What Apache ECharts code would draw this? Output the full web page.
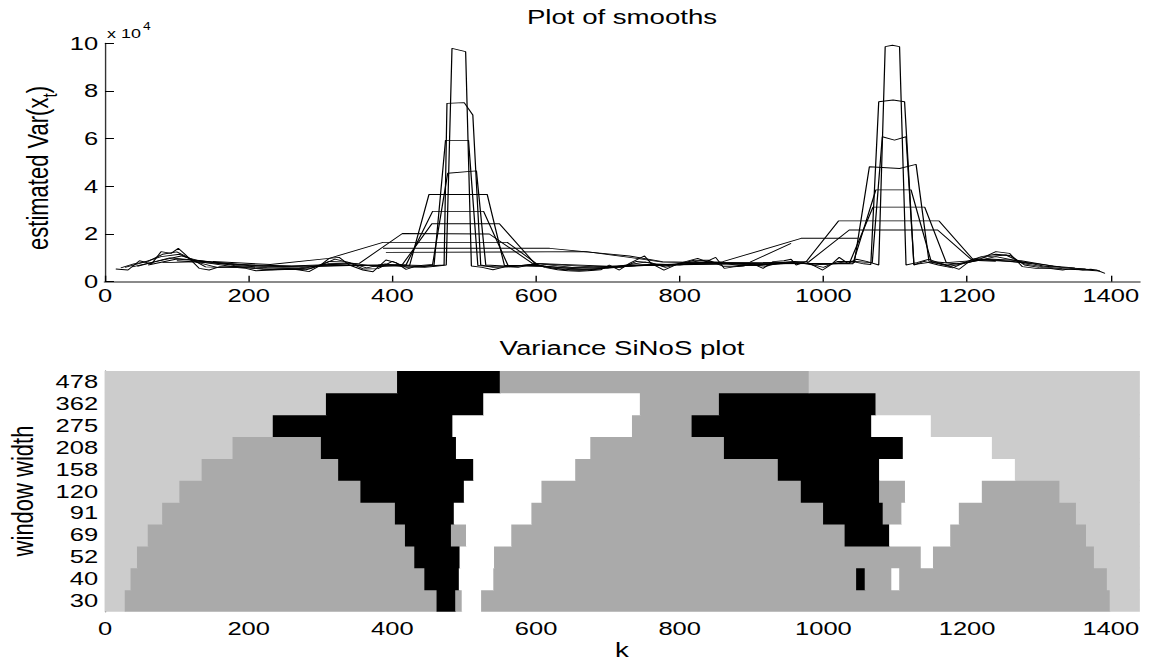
<!DOCTYPE html>
<html>
<head>
<meta charset="utf-8">
<script src="https://cdn.jsdelivr.net/npm/echarts@6/dist/echarts.min.js"></script>
<style>
html,body{margin:0;padding:0;background:#fff;overflow:hidden;}
#chart{width:834px;height:663px;transform:scaleX(1.38010);transform-origin:0 0;}
</style>
</head>
<body>
<div id="chart"></div>
<script>
// ---------------- data ----------------
const xMax = 1440;
const xTickValues = [0, 200, 400, 600, 800, 1000, 1200, 1400];
const yTickValues = [0, 2, 4, 6, 8, 10];          // x 10^4
const windowWidths = ['30', '40', '52', '69', '91', '120', '158', '208', '275', '362', '478'];

// smooths: [k, estimated Var(x_t) in units of 10^4]
const smooth30 = [[15,0.53],[32,0.49],[48,0.88],[65,0.75],[78,1.26],[92,1.19],[102,1.40],[115,1.05],[131,0.56],[145,0.49],[160,0.63],[180,0.60],[196,0.56],[210,0.46],[233,0.49],[255,0.55],[271,0.49],[284,0.42],[298,0.65],[312,0.98],[326,1.02],[340,0.70],[359,0.49],[373,0.42],[391,0.91],[405,0.80],[419,0.52],[431,0.63],[445,0.60],[460,0.65],[475,0.70],[483,9.79],[502,9.65],[510,0.66],[525,0.60],[540,0.50],[558,0.63],[575,0.60],[590,0.70],[598,0.77],[612,0.60],[630,0.50],[644,0.46],[660,0.44],[672,0.46],[690,0.50],[702,0.70],[716,0.49],[730,0.77],[751,1.08],[760,0.77],[778,0.49],[799,0.77],[825,0.98],[837,0.84],[850,1.02],[862,0.56],[875,0.62],[888,0.66],[902,0.75],[916,0.56],[930,0.84],[945,0.88],[955,0.94],[962,0.70],[976,0.84],[988,0.65],[999,0.49],[1012,0.75],[1022,1.02],[1034,0.77],[1046,0.94],[1060,0.85],[1077,0.70],[1086,9.86],[1096,9.92],[1106,9.86],[1115,0.70],[1130,0.80],[1147,0.94],[1160,0.80],[1175,0.66],[1189,0.52],[1207,0.94],[1222,1.01],[1240,1.26],[1259,1.19],[1277,0.63],[1296,0.56],[1314,0.56],[1333,0.49],[1345,0.55],[1361,0.49],[1372,0.52],[1380,0.49],[1392,0.35]];
const smooth40 = [[22,0.58],[40,0.75],[60,0.85],[80,1.15],[100,1.25],[120,0.95],[140,0.62],[160,0.60],[180,0.63],[200,0.58],[220,0.52],[240,0.50],[260,0.52],[280,0.50],[300,0.68],[320,0.95],[340,0.80],[360,0.53],[380,0.55],[400,0.85],[420,0.60],[440,0.63],[460,0.68],[472,0.70],[476,7.48],[500,7.51],[512,6.99],[523,0.70],[540,0.60],[560,0.62],[580,0.68],[600,0.72],[620,0.58],[640,0.50],[660,0.48],[680,0.50],[700,0.60],[720,0.60],[740,0.85],[760,0.80],[780,0.60],[800,0.75],[820,0.90],[840,0.90],[860,0.65],[880,0.65],[900,0.70],[920,0.65],[940,0.80],[960,0.85],[980,0.75],[1000,0.60],[1020,0.85],[1040,0.85],[1056,0.75],[1066,0.72],[1077,7.55],[1097,7.62],[1113,7.55],[1126,0.70],[1140,0.85],[1160,0.70],[1180,0.58],[1200,0.85],[1220,1.05],[1240,1.15],[1260,1.10],[1280,0.70],[1300,0.60],[1320,0.55],[1340,0.52],[1360,0.50],[1385,0.45]];
const smooth52 = [[28,0.60],[52,0.80],[78,1.05],[104,1.15],[130,0.80],[156,0.60],[182,0.62],[208,0.56],[234,0.52],[260,0.54],[286,0.56],[312,0.85],[338,0.82],[364,0.58],[390,0.75],[416,0.62],[442,0.65],[458,0.70],[474,5.93],[506,5.93],[519,0.68],[545,0.62],[570,0.65],[596,0.73],[622,0.58],[648,0.50],[674,0.50],[700,0.58],[726,0.70],[752,0.82],[778,0.65],[804,0.78],[830,0.88],[856,0.80],[882,0.68],[908,0.69],[934,0.74],[960,0.82],[986,0.70],[1012,0.76],[1038,0.86],[1068,0.80],[1082,6.08],[1099,5.94],[1115,6.08],[1126,0.72],[1150,0.82],[1176,0.65],[1202,0.80],[1228,1.05],[1254,1.12],[1280,0.75],[1306,0.62],[1332,0.55],[1358,0.54],[1375,0.50]];
const smooth69 = [[38,0.62],[72,0.85],[106,1.08],[140,0.80],[174,0.65],[208,0.60],[242,0.56],[276,0.56],[310,0.75],[344,0.78],[378,0.63],[412,0.70],[440,0.68],[456,0.72],[477,4.55],[517,4.65],[530,0.70],[562,0.65],[596,0.70],[630,0.60],[664,0.52],[698,0.56],[732,0.66],[766,0.74],[800,0.70],[834,0.82],[868,0.76],[902,0.70],[936,0.75],[970,0.78],[1004,0.73],[1043,0.80],[1064,4.82],[1106,4.75],[1129,4.92],[1147,0.85],[1172,0.70],[1206,0.83],[1240,1.05],[1274,0.85],[1308,0.65],[1342,0.58],[1365,0.53]];
const smooth91 = [[45,0.65],[90,1.00],[135,0.88],[180,0.68],[225,0.60],[270,0.58],[315,0.72],[360,0.68],[405,0.66],[424,0.68],[451,3.66],[532,3.66],[556,0.68],[600,0.68],[645,0.56],[690,0.58],[735,0.70],[780,0.72],[825,0.78],[870,0.76],[915,0.72],[960,0.78],[1005,0.75],[1041,0.75],[1073,3.85],[1122,3.85],[1150,0.85],[1185,0.75],[1230,0.95],[1275,0.88],[1320,0.65],[1350,0.58]];
const smooth120 = [[60,0.70],[100,0.95],[160,0.80],[220,0.65],[280,0.62],[340,0.68],[400,0.70],[419,0.70],[456,2.95],[527,2.95],[561,0.68],[620,0.62],[680,0.58],[740,0.68],[800,0.73],[860,0.76],[920,0.75],[980,0.76],[1036,0.76],[1069,3.13],[1141,3.13],[1171,0.80],[1230,0.93],[1290,0.78],[1330,0.62]];
const smooth158 = [[80,0.80],[140,0.85],[200,0.68],[260,0.65],[320,0.68],[380,0.70],[414,0.72],[455,2.43],[549,2.43],[598,0.77],[650,0.60],[720,0.65],[800,0.73],[880,0.76],[976,0.84],[1021,2.55],[1161,2.55],[1208,0.94],[1260,0.85],[1290,0.75]];
const smooth208 = [[100,0.88],[180,0.72],[260,0.66],[354,0.77],[414,2.02],[535,2.00],[595,0.77],[680,0.62],[780,0.70],[880,0.75],[980,0.84],[1036,2.17],[1159,2.17],[1207,0.90],[1240,0.86]];
const smooth275 = [[150,0.85],[230,0.72],[312,0.98],[387,1.65],[560,1.65],[600,0.77],[700,0.65],[800,0.72],[860,0.84],[969,1.82],[1048,1.82]];
const smooth362 = [[387,1.40],[619,1.40],[730,1.08],[776,0.84],[840,0.80],[898,0.82],[955,1.61]];
const smooth478 = [[391,1.23],[670,1.26],[730,1.02],[776,0.82],[840,0.80],[900,0.80],[975,0.76]];

// SiNoS segments per window width: [start k, end k, class]
// L = not available, G = no significant change, B = significantly higher, W = significantly lower
const sinos30  = [[0,28,'L'],[28,462,'G'],[462,488,'B'],[488,497,'G'],[497,524,'W'],[524,1399,'G'],[1399,1440,'L']];
const sinos40  = [[0,36,'L'],[36,445,'G'],[445,493,'B'],[493,541,'W'],[541,1046,'G'],[1046,1058,'B'],[1058,1095,'G'],[1095,1106,'W'],[1106,1395,'G'],[1395,1440,'L']];
const sinos52  = [[0,45,'L'],[45,431,'G'],[431,494,'B'],[494,542,'W'],[542,1136,'G'],[1136,1153,'W'],[1153,1377,'G'],[1377,1440,'L']];
const sinos69  = [[0,60,'L'],[60,418,'G'],[418,482,'B'],[482,503,'G'],[503,566,'W'],[566,1030,'G'],[1030,1092,'B'],[1092,1177,'W'],[1177,1366,'G'],[1366,1440,'L']];
const sinos91  = [[0,80,'L'],[80,404,'G'],[404,486,'B'],[486,594,'W'],[594,1000,'G'],[1000,1083,'B'],[1083,1109,'G'],[1109,1189,'W'],[1189,1352,'G'],[1352,1440,'L']];
const sinos120 = [[0,104,'L'],[104,356,'G'],[356,500,'B'],[500,608,'W'],[608,969,'G'],[969,1078,'B'],[1078,1114,'G'],[1114,1221,'W'],[1221,1329,'G'],[1329,1440,'L']];
const sinos158 = [[0,135,'L'],[135,325,'G'],[325,513,'B'],[513,655,'W'],[655,937,'G'],[937,1078,'B'],[1078,1267,'W'],[1267,1440,'L']];
const sinos208 = [[0,178,'L'],[178,301,'G'],[301,489,'B'],[489,676,'W'],[676,862,'G'],[862,1111,'B'],[1111,1235,'W'],[1235,1440,'L']];
const sinos275 = [[0,234,'L'],[234,484,'B'],[484,734,'W'],[734,817,'G'],[817,1067,'B'],[1067,1150,'W'],[1150,1440,'L']];
const sinos362 = [[0,308,'L'],[308,527,'B'],[527,745,'W'],[745,855,'G'],[855,1073,'B'],[1073,1440,'L']];
const sinos478 = [[0,407,'L'],[407,550,'B'],[550,980,'G'],[980,1440,'L']];

const shadeColors = { L: '#cccccc', G: '#aaaaaa', B: '#000000', W: '#ffffff' };

// ---------------- build ----------------
const SX = 1151 / 834;   // the figure is stretched horizontally
const FONT = "'Liberation Sans', Arial, Helvetica, sans-serif";
const smoothList = [smooth30, smooth40, smooth52, smooth69, smooth91, smooth120, smooth158, smooth208, smooth275, smooth362, smooth478];
const sinosList = [sinos30, sinos40, sinos52, sinos69, sinos91, sinos120, sinos158, sinos208, sinos275, sinos362, sinos478];

const segData = [];
const segColors = [];
sinosList.forEach((row, r) => {
  row.forEach(s => { segData.push([s[0], s[1], r]); segColors.push(shadeColors[s[2]]); });
});

const gl = 105 / SX;
const gr = 834 - 1139.5 / SX;
const plain = v => String(v);

const tickLabel = { color: '#000', fontSize: 18.5, fontFamily: FONT, formatter: plain };

const chart = echarts.init(document.getElementById('chart'), null, { renderer: 'svg', width: 834, height: 663 });

const lineSeries = smoothList.map((d, i) => ({
  type: 'line', name: 'window ' + windowWidths[i], xAxisIndex: 0, yAxisIndex: 0,
  data: d, symbol: 'none', showSymbol: false, silent: true, animation: false,
  lineStyle: { color: '#000', width: 0.9 }, z: 3
}));

const option = {
  animation: false,
  backgroundColor: '#fff',
  grid: [
    { left: gl, right: gr, top: 43.3, height: 238.4, containLabel: false },
    { left: gl, right: gr, top: 371, height: 240.7, containLabel: false }
  ],
  xAxis: [
    { type: 'value', gridIndex: 0, min: 0, max: xMax, interval: 200,
      splitLine: { show: false },
      axisLine: { show: true, lineStyle: { color: '#8a8a8a', width: 2 } },
      axisTick: { show: true, inside: true, length: 6, customValues: xTickValues, lineStyle: { color: '#000', width: 1 } },
      axisLabel: Object.assign({ margin: 5, customValues: xTickValues }, tickLabel) },
    { type: 'value', gridIndex: 1, min: 0, max: xMax, interval: 200,
      splitLine: { show: false },
      axisLine: { show: false },
      axisTick: { show: false },
      axisLabel: Object.assign({ margin: 8, customValues: xTickValues }, tickLabel) }
  ],
  yAxis: [
    { type: 'value', gridIndex: 0, min: 0, max: 10, interval: 2,
      splitLine: { show: false },
      axisLine: { show: true, lineStyle: { color: '#333', width: 1 } },
      axisTick: { show: true, inside: true, length: 6.5, lineStyle: { color: '#000', width: 1 } },
      axisLabel: Object.assign({ margin: 5 }, tickLabel) },
    { type: 'category', gridIndex: 1, data: windowWidths, boundaryGap: true,
      splitLine: { show: false },
      axisLine: { show: true, lineStyle: { color: '#555', width: 1 } },
      axisTick: { show: false },
      axisLabel: { margin: 5, interval: 0, color: '#000', fontSize: 18.5, fontFamily: FONT } }
  ],
  series: lineSeries.concat([{
    type: 'custom', xAxisIndex: 1, yAxisIndex: 1, data: segData, clip: true, silent: true, z: 2,
    encode: { x: [0, 1], y: 2 },
    renderItem: function (params, api) {
      const p0 = api.coord([api.value(0), api.value(2)]);
      const p1 = api.coord([api.value(1), api.value(2)]);
      const h = api.size([0, 1])[1];
      return { type: 'rect',
        shape: { x: p0[0] - 0.25, y: p0[1] - h / 2 - 0.4, width: p1[0] - p0[0] + 0.5, height: h + 0.8 },
        style: { fill: segColors[params.dataIndex], stroke: null } };
    }
  }]),
  graphic: [
    { type: 'text', x: 622 / SX, y: 17, style: { text: 'Plot of smooths', fill: '#000', fontSize: 20, fontFamily: FONT, textAlign: 'center', textVerticalAlign: 'middle' } },
    { type: 'text', x: 622 / SX, y: 348, style: { text: 'Variance SiNoS plot', fill: '#000', fontSize: 20, fontFamily: FONT, textAlign: 'center', textVerticalAlign: 'middle' } },
    { type: 'text', x: 622 / SX, y: 650, style: { text: 'k', fill: '#000', fontSize: 20, fontFamily: FONT, textAlign: 'center', textVerticalAlign: 'middle' } },
    { type: 'text', x: 107 / SX, y: 33, style: { text: 'x 10', fill: '#000', fontSize: 13, fontFamily: FONT, textAlign: 'left', textVerticalAlign: 'middle' } },
    { type: 'text', x: 143 / SX, y: 27, style: { text: '4', fill: '#000', fontSize: 10, fontFamily: FONT, textAlign: 'left', textVerticalAlign: 'middle' } },
    { type: 'text', x: 38 / SX, y: 168, rotation: Math.PI / 2,
      style: { text: '{a|estimated Var(x}{s|t}{a|)}', textAlign: 'center', textVerticalAlign: 'middle',
        rich: { a: { fontSize: 22, fontFamily: FONT, fill: '#000', color: '#000', lineHeight: 32 },
                s: { fontSize: 15, fontFamily: FONT, fill: '#000', color: '#000', lineHeight: 15, verticalAlign: 'bottom' } } } },
    { type: 'text', x: 23 / SX, y: 491, rotation: Math.PI / 2,
      style: { text: 'window width', fill: '#000', fontSize: 22, fontFamily: FONT, textAlign: 'center', textVerticalAlign: 'middle' } }
  ]
};
chart.setOption(option);
</script>
</body>
</html>
